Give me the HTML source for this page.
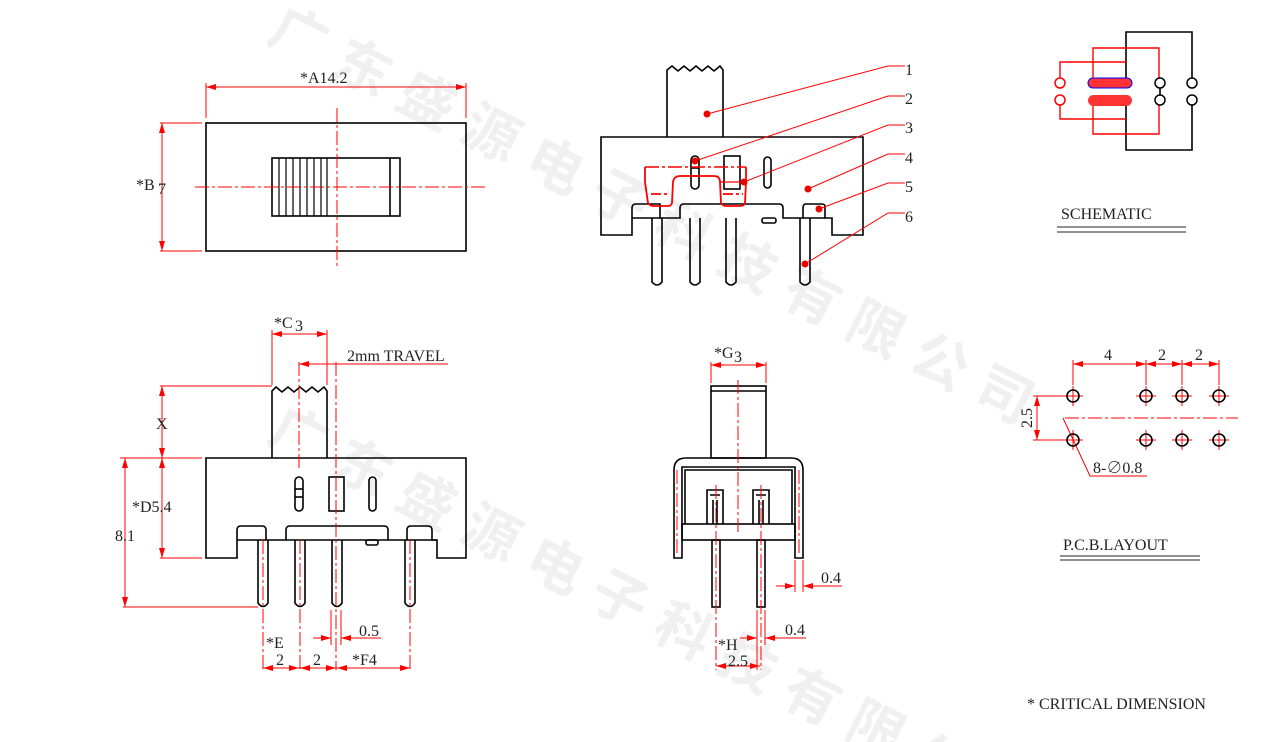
<!DOCTYPE html>
<html><head><meta charset="utf-8"><style>
html,body{margin:0;padding:0;background:#fff;width:1266px;height:742px;overflow:hidden;}
svg{display:block;font-family:"Liberation Serif","Noto Serif CJK SC",serif;overflow:hidden;}
.k{stroke:#000;stroke-width:1.6;fill:none;}
.r{stroke:#f00;stroke-width:1;fill:none;}
.cl{stroke:#f00;stroke-width:1;fill:none;stroke-dasharray:14 3 3 3;}
.t{font-size:16px;fill:#222;}
</style></head><body>
<svg width="1266" height="742" viewBox="0 0 1266 742" xmlns="http://www.w3.org/2000/svg">
<defs>
<marker id="a" markerWidth="10" markerHeight="6" refX="10" refY="3" orient="auto-start-reverse"><path d="M0,0 L10,3 L0,6z" fill="#f00"/></marker>
</defs>
<!-- watermark -->
<g fill="#f0f0f0" font-family="'Noto Sans CJK SC',sans-serif" font-size="56" font-weight="bold">
<text transform="translate(265,40) rotate(27)" letter-spacing="16">广东盛源电子科技有限公司</text>
<text transform="translate(265,440) rotate(27)" letter-spacing="16">广东盛源电子科技有限公司</text>
</g>

<!-- TOP LEFT VIEW -->
<rect class="k" x="206" y="123" width="260" height="128"/>
<rect class="k" x="272" y="158" width="128" height="58"/>
<line class="k" x1="390" y1="158" x2="390" y2="216"/>
<g stroke="#000" stroke-width="1.2">
<line x1="279" y1="158" x2="279" y2="216"/><line x1="286" y1="158" x2="286" y2="216"/><line x1="293" y1="158" x2="293" y2="216"/><line x1="300" y1="158" x2="300" y2="216"/><line x1="307" y1="158" x2="307" y2="216"/><line x1="314" y1="158" x2="314" y2="216"/><line x1="321" y1="158" x2="321" y2="216"/><line x1="327" y1="158" x2="327" y2="216"/>
</g>
<line class="cl" x1="337" y1="108" x2="337" y2="266"/>
<line class="cl" x1="195" y1="187" x2="487" y2="187"/>
<line class="r" x1="206" y1="83" x2="206" y2="118"/><line class="r" x1="466" y1="83" x2="466" y2="118"/>
<line class="r" x1="206" y1="87" x2="466" y2="87" marker-start="url(#a)" marker-end="url(#a)"/>
<text class="t" x="300" y="83">*A14.2</text>
<line class="r" x1="160" y1="123" x2="202" y2="123"/><line class="r" x1="160" y1="251" x2="202" y2="251"/>
<line class="r" x1="162" y1="123" x2="162" y2="251" marker-start="url(#a)" marker-end="url(#a)"/>
<text class="t" x="136" y="190">*B</text><text class="t" x="158" y="194">7</text>

<!-- TOP MIDDLE VIEW -->
<path class="k" d="M667,137 L667,70 L672,66 L678,71 L684,66 L690,71 L696,66 L702,71 L708,66 L714,71 L720,66 L723,70 L723,137"/>
<path class="k" d="M601,137 L863,137 L863,235 L832,235 L832,218 L825,218 L825,206 Q825,204 821,204 L806,204 Q803,204 803,208 L803,218 L783,218 L783,208 Q783,204 779,204 L684,204 Q680,204 680,208 L680,218 L660,218 L660,204 L636,204 Q632,204 632,208 L632,235 L601,235 Z"/>
<line class="k" x1="632" y1="218" x2="660" y2="218"/><line class="k" x1="803" y1="218" x2="825" y2="218"/>
<rect class="k" x="762" y="218" width="14" height="5" rx="2"/>
<g class="k">
<path d="M652,218 L652,282 Q657,288 662,282 L662,218"/>
<path d="M690,218 L690,282 Q695,288 700,282 L700,218"/>
<path d="M726,218 L726,282 Q731,288 736,282 L736,218"/>
<path d="M800,218 L800,282 Q805,288 810,282 L810,218"/>
</g>
<rect class="k" x="691" y="156" width="8" height="33" rx="4"/>
<line class="k" x1="691" y1="168" x2="699" y2="168"/><line class="k" x1="691" y1="176" x2="699" y2="176"/>
<rect class="k" x="724" y="156" width="16" height="33"/>
<rect class="k" x="764" y="157" width="7" height="31" rx="3.5"/>
<g stroke="#f00" stroke-width="1.8" fill="none">
<path d="M645,167 L645,182 L648,203 Q650,206 654,206 L668,206 Q671,206 672,203 L673,182 Q674,176 680,176 L714,176 Q720,176 720,182 L721,203 Q723,206 726,206 L740,206 Q744,206 745,203 L746,182 L746,167"/>
<line x1="645" y1="167" x2="746" y2="167" stroke-dasharray="14 3 3 3" stroke-width="1.4"/>
<line x1="651" y1="194" x2="670" y2="194" stroke-dasharray="10 3 3 3"/>
<line x1="723" y1="194" x2="743" y2="194" stroke-dasharray="10 3 3 3"/>
<line x1="720" y1="182" x2="745" y2="182" stroke-width="1.2"/>
</g>
<g stroke="#f00" stroke-width="1" fill="none">
<polyline points="707,114 888,66 905,66"/>
<polyline points="695,161 888,96 905,96"/>
<polyline points="744,182 888,125 905,125"/>
<polyline points="808,189 888,154 905,154"/>
<polyline points="819,209 888,183 905,183"/>
<polyline points="805,264 888,213 905,213"/>
</g>
<g fill="#e00"><circle cx="707" cy="114" r="3.5"/><circle cx="695" cy="161" r="3.5"/><circle cx="744" cy="182" r="3.5"/><circle cx="808" cy="189" r="3.5"/><circle cx="819" cy="209" r="3.5"/><circle cx="805" cy="264" r="3.5"/></g>
<g class="t" font-size="19"><text x="905" y="75">1</text><text x="905" y="104">2</text><text x="905" y="133">3</text><text x="905" y="163">4</text><text x="905" y="192">5</text><text x="905" y="222">6</text></g>

<!-- SCHEMATIC -->
<path class="k" d="M1126,78 L1126,32 L1192,32 L1192,78 M1192,105 L1192,150 L1126,150 L1126,105"/>
<line class="k" x1="1160" y1="88" x2="1160" y2="95"/>
<g stroke="#f00" stroke-width="1.4" fill="none">
<path d="M1060,78 L1060,62 L1126,62"/><path d="M1060,105 L1060,119 L1126,119"/>
<path d="M1093,78 L1093,48 L1159,48 L1159,78"/><path d="M1093,105 L1093,134 L1159,134 L1159,105"/>
</g>
<g fill="#fff" stroke="#f00" stroke-width="1.5"><circle cx="1060" cy="83" r="5"/><circle cx="1060" cy="100" r="5"/></g>
<g fill="#fff" stroke="#000" stroke-width="1.5"><circle cx="1160" cy="83" r="5"/><circle cx="1160" cy="100" r="5"/><circle cx="1192" cy="83" r="5"/><circle cx="1192" cy="100" r="5"/></g>
<rect x="1088" y="78" width="44" height="10" rx="5" fill="#f33" stroke="#00f" stroke-width="1"/>
<rect x="1088" y="95" width="44" height="11" rx="5.5" fill="#f33"/>
<text class="t" x="1061" y="219" font-size="18">SCHEMATIC</text>
<line stroke="#222" stroke-width="1" x1="1057" y1="227" x2="1186" y2="227"/><line stroke="#222" stroke-width="1" x1="1057" y1="232" x2="1186" y2="232"/>

<!-- BOTTOM LEFT VIEW -->
<path class="k" d="M272,458 L272,391 L276,387 L282,392 L288,387 L294,392 L300,387 L306,392 L312,387 L318,392 L324,387 L327,391 L327,458"/>
<path class="k" d="M206,458 L466,458 L466,558 L437,558 L437,540 L432,540 L432,530 Q432,526 428,526 L411,526 Q407,526 407,530 L407,540 L388,540 L388,530 Q388,526 384,526 L290,526 Q286,526 286,530 L286,540 L266,540 L266,530 Q266,526 262,526 L241,526 Q237,526 237,530 L237,558 L206,558 Z"/>
<line class="k" x1="237" y1="540" x2="266" y2="540"/><line class="k" x1="407" y1="540" x2="437" y2="540"/><line class="k" x1="286" y1="540" x2="388" y2="540"/>
<rect class="k" x="366" y="540" width="12" height="5" rx="2"/>
<g class="k">
<path d="M258,540 L258,603 Q263,610 268,603 L268,540"/>
<path d="M295,540 L295,603 Q300,610 305,603 L305,540"/>
<path d="M332,540 L332,603 Q337,610 342,603 L342,540"/>
<path d="M405,540 L405,603 Q410,610 415,603 L415,540"/>
</g>
<rect class="k" x="295" y="477" width="8" height="34" rx="4"/>
<line class="k" x1="295" y1="489" x2="303" y2="489"/><line class="k" x1="295" y1="497" x2="303" y2="497"/>
<rect class="k" x="329" y="477" width="15" height="34"/>
<rect class="k" x="369" y="477" width="7" height="34" rx="3.5"/>
<line class="cl" x1="299" y1="362" x2="299" y2="468"/>
<line class="cl" x1="336" y1="362" x2="336" y2="670"/>
<line class="cl" x1="263" y1="540" x2="263" y2="670"/><line class="cl" x1="300" y1="540" x2="300" y2="670"/><line class="cl" x1="410" y1="540" x2="410" y2="670"/>
<!-- dims -->
<line class="r" x1="272" y1="330" x2="272" y2="385"/><line class="r" x1="327" y1="330" x2="327" y2="385"/>
<line class="r" x1="272" y1="334" x2="327" y2="334" marker-start="url(#a)" marker-end="url(#a)"/>
<text class="t" x="274" y="328">*C</text><text class="t" x="295" y="331">3</text>
<line class="r" x1="299" y1="364" x2="336" y2="364" marker-start="url(#a)"/><line class="r" x1="336" y1="364" x2="448" y2="364"/>
<text class="t" x="347" y="361">2mm TRAVEL</text>
<line class="r" x1="160" y1="386" x2="272" y2="386"/>
<line class="r" x1="162" y1="386" x2="162" y2="458" marker-start="url(#a)" marker-end="url(#a)"/>
<text class="t" x="156" y="429">X</text>
<line class="r" x1="120" y1="458" x2="202" y2="458"/><line class="r" x1="160" y1="558" x2="202" y2="558"/>
<line class="r" x1="162" y1="458" x2="162" y2="558" marker-start="url(#a)" marker-end="url(#a)"/>
<text class="t" x="132" y="512">*D5.4</text>
<line class="r" x1="123" y1="607" x2="258" y2="607"/>
<line class="r" x1="125" y1="458" x2="125" y2="607" marker-start="url(#a)" marker-end="url(#a)"/>
<text class="t" x="115" y="541">8.1</text>
<line class="r" x1="263" y1="668" x2="410" y2="668"/>
<line class="r" x1="263" y1="668" x2="299" y2="668" marker-start="url(#a)" marker-end="url(#a)"/>
<line class="r" x1="300" y1="668" x2="336" y2="668" marker-start="url(#a)" marker-end="url(#a)"/>
<line class="r" x1="337" y1="668" x2="410" y2="668" marker-start="url(#a)" marker-end="url(#a)"/>
<line class="r" x1="331" y1="610" x2="331" y2="645"/><line class="r" x1="341" y1="610" x2="341" y2="645"/>
<line class="r" x1="313" y1="638" x2="331" y2="638" marker-end="url(#a)"/><line class="r" x1="341" y1="638" x2="381" y2="638" marker-start="url(#a)"/>
<text class="t" x="359" y="636">0.5</text>
<text class="t" x="266" y="648">*E</text><text class="t" x="276" y="665">2</text><text class="t" x="313" y="665">2</text><text class="t" x="352" y="665">*F4</text>

<!-- BOTTOM MIDDLE VIEW -->
<rect class="k" x="711" y="386" width="55" height="72"/>
<line class="k" x1="711" y1="391" x2="766" y2="391"/>
<path class="k" d="M674,558 L674,470 Q674,458 686,458 L791,458 Q803,458 803,470 L803,558 L795,558 L795,467 L682,467 L682,558 Z"/>
<path class="k" d="M685,524 L685,470 L792,470 L792,524"/>
<rect class="k" x="682" y="524" width="113" height="16"/>
<g class="k">
<path d="M707,524 L707,490 L723,490 L723,524 M710,495 L720,495 M713,500 L713,524 M717,500 L717,524"/>
<path d="M753,524 L753,490 L769,490 L769,524 M756,495 L766,495 M759,500 L759,524 M763,500 L763,524"/>
</g>
<rect class="k" x="712" y="540" width="8" height="67"/><rect class="k" x="757" y="540" width="8" height="67"/>
<line class="cl" x1="738" y1="380" x2="738" y2="535"/>
<line class="cl" x1="716" y1="485" x2="716" y2="670"/><line class="cl" x1="761" y1="485" x2="761" y2="670"/>
<line class="cl" x1="677" y1="470" x2="677" y2="555"/><line class="cl" x1="799" y1="470" x2="799" y2="555"/>
<line class="r" x1="711" y1="362" x2="711" y2="383"/><line class="r" x1="766" y1="362" x2="766" y2="383"/>
<line class="r" x1="711" y1="365" x2="766" y2="365" marker-start="url(#a)" marker-end="url(#a)"/>
<text class="t" x="714" y="358">*G</text><text class="t" x="734" y="362">3</text>
<line class="r" x1="795" y1="560" x2="795" y2="592"/><line class="r" x1="803" y1="560" x2="803" y2="592"/>
<line class="r" x1="776" y1="586" x2="795" y2="586" marker-end="url(#a)"/><line class="r" x1="803" y1="586" x2="842" y2="586" marker-start="url(#a)"/>
<text class="t" x="821" y="583">0.4</text>
<line class="r" x1="757" y1="610" x2="757" y2="670"/><line class="r" x1="765" y1="610" x2="765" y2="645"/>
<line class="r" x1="740" y1="638" x2="757" y2="638" marker-end="url(#a)"/><line class="r" x1="765" y1="638" x2="806" y2="638" marker-start="url(#a)"/>
<text class="t" x="785" y="635">0.4</text>
<line class="r" x1="716" y1="666" x2="760" y2="666" marker-start="url(#a)" marker-end="url(#a)"/>
<text class="t" x="718" y="650">*H</text><text class="t" x="728" y="666">2.5</text>

<!-- PCB LAYOUT -->
<g stroke="#f00" stroke-width="1">
<line x1="1073" y1="360" x2="1073" y2="385"/><line x1="1146" y1="360" x2="1146" y2="385"/><line x1="1182" y1="360" x2="1182" y2="385"/><line x1="1219" y1="360" x2="1219" y2="385"/>
<line x1="1073" y1="364" x2="1146" y2="364" marker-start="url(#a)" marker-end="url(#a)"/>
<line x1="1146" y1="364" x2="1182" y2="364" marker-start="url(#a)" marker-end="url(#a)"/>
<line x1="1182" y1="364" x2="1219" y2="364" marker-start="url(#a)" marker-end="url(#a)"/>
<line x1="1033" y1="396" x2="1063" y2="396"/><line x1="1033" y1="440" x2="1063" y2="440"/>
<line x1="1037" y1="396" x2="1037" y2="440" marker-start="url(#a)" marker-end="url(#a)"/>
<polyline points="1063,418 1090,476 1147,476" fill="none"/>
</g>
<line class="cl" x1="1065" y1="418" x2="1238" y2="418"/>
<g stroke="#f00" stroke-width="1">
<path d="M1063,396h20M1073,386v20M1136,396h20M1146,386v20M1172,396h20M1182,386v20M1209,396h20M1219,386v20"/>
<path d="M1063,440h20M1073,430v20M1136,440h20M1146,430v20M1172,440h20M1182,430v20M1209,440h20M1219,430v20"/>
</g>
<g fill="none" stroke="#000" stroke-width="1.6">
<circle cx="1073" cy="396" r="6"/><circle cx="1146" cy="396" r="6"/><circle cx="1182" cy="396" r="6"/><circle cx="1219" cy="396" r="6"/>
<circle cx="1073" cy="440" r="6"/><circle cx="1146" cy="440" r="6"/><circle cx="1182" cy="440" r="6"/><circle cx="1219" cy="440" r="6"/>
</g>
<g class="t" font-size="18"><text x="1104" y="360">4</text><text x="1158" y="360">2</text><text x="1195" y="360">2</text></g>
<text class="t" font-size="18" transform="translate(1032,428) rotate(-90)">2.5</text>
<text class="t" x="1093" y="473" font-size="17">8-∅0.8</text>
<text class="t" x="1063" y="550" font-size="18">P.C.B.LAYOUT</text>
<line stroke="#222" stroke-width="1" x1="1060" y1="556" x2="1200" y2="556"/><line stroke="#222" stroke-width="1" x1="1060" y1="560" x2="1200" y2="560"/>

<text class="t" x="1027" y="709" font-size="15">* CRITICAL  DIMENSION</text>
</svg>
</body></html>
